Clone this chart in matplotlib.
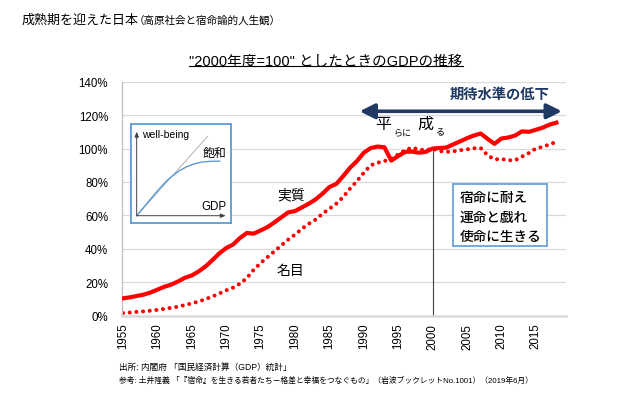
import matplotlib
matplotlib.use("Agg")
import matplotlib.pyplot as plt
from matplotlib.patches import Rectangle
from matplotlib.lines import Line2D

plt.rcParams['font.family'] = ['Liberation Sans', 'Noto Sans CJK JP', 'DejaVu Sans']

# ---------------- data ----------------
years = list(range(1955, 2019))
real_gdp = [10.4, 11.0, 11.8, 12.6, 13.9, 15.6, 17.3, 18.6, 20.5, 22.7,
            24.1, 26.5, 29.5, 33.3, 37.3, 40.5, 42.6, 46.5, 49.5, 49.1,
            51.0, 53.0, 55.8, 58.8, 61.8, 62.6, 64.8, 67.0, 69.6, 73.0,
            77.0, 78.8, 83.5, 88.5, 92.5, 97.5, 100.3, 101.2, 100.8, 92.8,
            95.5, 98.0, 98.2, 97.5, 98.0, 100.0, 100.3, 100.6, 102.5, 104.3,
            106.2, 107.8, 109.0, 105.8, 102.8, 106.0, 106.6, 107.8, 110.3, 110.0,
            111.2, 112.5, 114.3, 115.5]
nominal_gdp = [1.6, 1.9, 2.3, 2.6, 3.0, 3.5, 4.1, 4.7, 5.4, 6.4,
               7.4, 8.5, 9.9, 11.5, 13.3, 15.2, 16.8, 19.2, 22.5, 27.5,
               31.5, 35.0, 38.5, 42.0, 45.5, 48.5, 52.0, 55.0, 57.5, 61.0,
               64.0, 67.0, 71.0, 76.0, 80.5, 85.5, 90.0, 91.5, 92.5, 94.0,
               96.5, 99.0, 100.5, 99.5, 99.0, 100.0, 98.5, 98.0, 98.3, 99.0,
               99.5, 100.2, 100.3, 96.0, 93.5, 93.8, 93.0, 93.0, 95.2, 97.3,
               100.0, 101.0, 102.5, 104.0]
xtick_years = list(range(1955, 2016, 5))
ytick_vals = [0, 20, 40, 60, 80, 100, 120, 140]
ytick_labels = ["0%", "20%", "40%", "60%", "80%", "100%", "120%", "140%"]
base_year = 2000
base_value = 100

# inset schematic (well-being vs GDP)
inset_gdp = [0, 10, 20, 30, 36, 42, 50, 58, 66, 75, 83]
inset_wb = [0, 12, 24, 35, 40, 44.5, 49, 52, 53.8, 54.4, 54.5]
inset_diag_x = [0, 71]
inset_diag_y = [0, 79.4]

RED = "#ff0000"
NAVY = "#1f3864"
BLUE = "#5b9bd5"
GRID = "#d9d9d9"

fig = plt.figure(figsize=(6.4, 4.1), dpi=100)
ax = fig.add_axes([122/640, 1-316.7/410, (566-122)/640, (316.7-82.7)/410])

ax.set_xlim(1954.85, 2019.4)
ax.set_ylim(0, 140)

# grid
for v in ytick_vals[1:]:
    ax.axhline(v, color=GRID, lw=0.9, zorder=0)
for s in ["top", "right"]:
    ax.spines[s].set_visible(False)
ax.spines["bottom"].set_color(GRID)
ax.spines["bottom"].set_linewidth(1.8)
ax.spines["left"].set_color("#bfbfbf")
ax.spines["left"].set_linewidth(0.9)

ax.set_yticks(ytick_vals)
ax.set_yticklabels(ytick_labels, fontsize=8.3)
ax.set_xticks(xtick_years)
ax.set_xticklabels([str(y) for y in xtick_years], rotation=90, fontsize=8.3)
ax.tick_params(axis="y", length=0, pad=10)
ax.tick_params(axis="x", length=0, pad=5)

# reference line at 2000
ax.plot([base_year, base_year], [0, base_value], color="#404040", lw=0.8, zorder=1)

# series
ax.plot(years, real_gdp, color=RED, lw=3.0, solid_joinstyle="round", zorder=3)
ax.plot(years, nominal_gdp, color=RED, lw=2.9, linestyle=(0, (0.01, 1.65)),
        dash_capstyle="round", zorder=2)

# annotations
ax.text(1979.5, 72.8, "実質", fontsize=10, ha="center", va="center")
ax.text(1979.4, 27.5, "名目", fontsize=10, ha="center", va="center")
ax.text(1992.8, 115.0, "平", fontsize=11.5, ha="center", va="center")
ax.text(1995.65, 109.8, "らに", fontsize=6.5, ha="center", va="center")
ax.text(1998.9, 115.0, "成", fontsize=11.5, ha="center", va="center")
ax.text(2001.2, 109.8, "る", fontsize=6.5, ha="center", va="center")

ax.annotate("", xy=(2018.8, 122.3), xytext=(1989.4, 122.3),
            arrowprops=dict(arrowstyle="<|-|>,head_length=0.9,head_width=0.45",
                            color=NAVY, lw=2.6, shrinkA=0, shrinkB=0))
ax.text(2009.8, 132.7, "期待水準の低下", fontsize=10.3, fontweight="bold",
        color=NAVY, ha="center", va="center")

# inset box
iax = fig.add_axes([131/640, 1-224.3/410, 100/640, 99.3/410])
iax.set_xlim(-5.7, 94.3)
iax.set_ylim(-7.6, 91.7)
iax.set_xticks([])
iax.set_yticks([])
for s in iax.spines.values():
    s.set_color(BLUE)
    s.set_linewidth(1.3)
iax.annotate("", xy=(0, 84), xytext=(0, 0),
             arrowprops=dict(arrowstyle="-|>,head_length=0.3,head_width=0.12",
                             color="#404040", lw=0.7, shrinkA=0, shrinkB=0))
iax.annotate("", xy=(89, 0), xytext=(0, 0),
             arrowprops=dict(arrowstyle="-|>,head_length=0.3,head_width=0.12",
                             color="#404040", lw=0.7, shrinkA=0, shrinkB=0))
iax.plot(inset_diag_x, inset_diag_y, color="#a6a6a6", lw=0.6)
iax.plot(inset_gdp, inset_wb, color=BLUE, lw=1.0)
iax.text(5, 81.7, "well-being", fontsize=7.5, ha="left", va="center")
iax.text(77.6, 62.7, "飽和", fontsize=8.6, ha="center", va="center")
iax.text(77.6, 10, "GDP", fontsize=8.3, ha="center", va="center")

# message box
fig.patches.append(Rectangle((453.3/640, 1-247.3/410), 94/640, 62.3/410,
                             transform=fig.transFigure, fill=True,
                             facecolor="white", edgecolor=BLUE, lw=1.2, zorder=5))
for yy, line in zip([198.3, 218.3, 236.7], ["宿命に耐え", "運命と戯れ", "使命に生きる"]):
    fig.text(459.3/640, 1-yy/410, line, fontsize=9.8, ha="left", va="center",
             family=["Noto Sans CJK JP"], fontweight="medium", zorder=6)

# titles
fig.text(21.7/640, 1-20.7/410, "成熟期を迎えた日本", fontsize=9.4, ha="left", va="center")
fig.text(134/640, 1-20.7/410, "（高原社会と宿命論的人生観）", fontsize=7.6, ha="left", va="center")
ttl = fig.text(326/640, 1-61.7/410, '"2000年度=100" としたときのGDPの推移',
               fontsize=10.5, ha="center", va="center")
fig.canvas.draw()
bb = ttl.get_window_extent().transformed(fig.transFigure.inverted())
fig.lines.append(Line2D([bb.x0, bb.x1], [1-66.7/410, 1-66.7/410],
                        transform=fig.transFigure, color="black", lw=0.8))

# footnotes
fig.text(119/640, 1-367/410, "出所: 内閣府 「国民経済計算（GDP）統計」", fontsize=6.2,
         ha="left", va="center")
fig.text(119/640, 1-381/410,
         "参考: 土井隆義 「『宿命』を生きる若者たち－格差と幸福をつなぐもの」（岩波ブックレットNo.1001）（2019年6月）",
         fontsize=5.6, ha="left", va="center")

fig.savefig("out.png", dpi=100)
